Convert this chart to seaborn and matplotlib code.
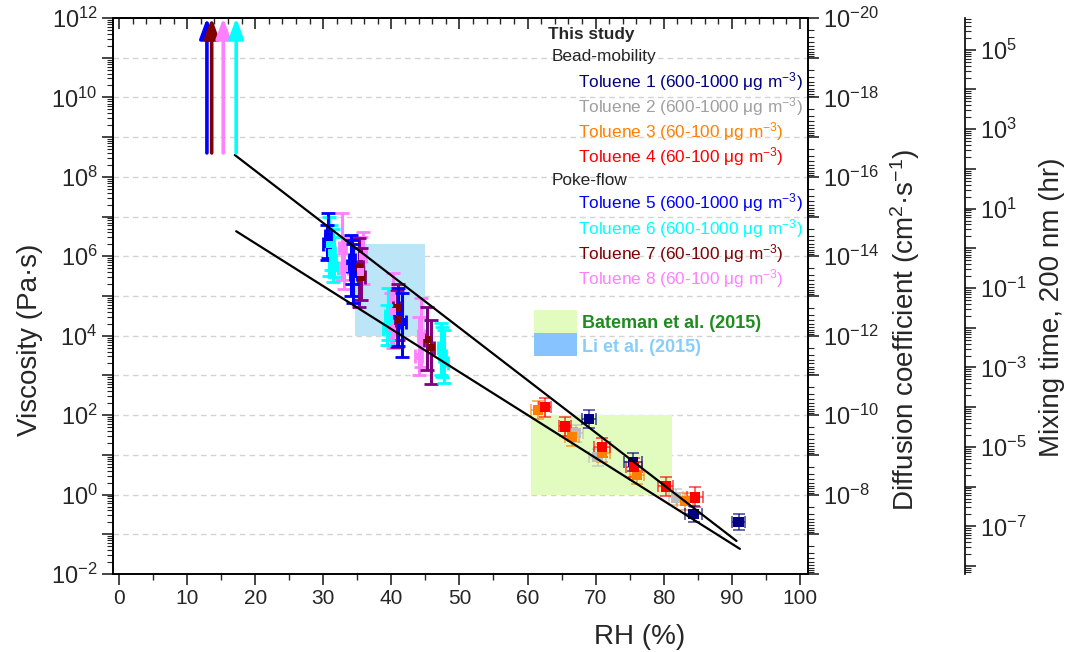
import numpy as np
import pandas as pd
import matplotlib
matplotlib.use("Agg")
import matplotlib.pyplot as plt
import seaborn as sns
from matplotlib.ticker import (LogLocator, FuncFormatter, NullFormatter,
                               MultipleLocator)
from matplotlib.patches import Rectangle

# ---------------- bead-mobility data (RH %, viscosity Pa s) ----------------
t1_rh = [69.0, 75.5, 84.4, 91.0]
t1_visc = [79.0, 6.6, 0.32, 0.20]
t1_rh_err = [1.0, 1.3, 1.2, 0.9]
t1_dec_err = [0.22, 0.22, 0.20, 0.20]

t2_rh = [67.1, 70.3, 81.8]
t2_visc = [35.0, 8.7, 0.85]
t2_rh_err = [1.0, 1.2, 1.0]
t2_dec_err = [0.22, 0.22, 0.2]

t3_rh = [61.5, 66.5, 70.9, 76.1, 83.1]
t3_visc = [135.0, 28.0, 11.0, 3.1, 0.68]
t3_rh_err = [1.0, 1.0, 1.2, 1.0, 1.2]
t3_dec_err = [0.22, 0.22, 0.22, 0.22, 0.22]

t4_rh = [62.6, 65.5, 70.9, 75.6, 80.3, 84.6]
t4_visc = [158.0, 52.0, 15.5, 4.9, 1.6, 0.85]
t4_rh_err = [0.9, 0.9, 1.2, 1.2, 1.1, 1.2]
t4_dec_err = [0.24, 0.24, 0.24, 0.24, 0.25, 0.25]

# ---------------- poke-flow data (RH %, best estimate, lower, upper) ----------------
t5_rh = [30.7, 30.5, 34.0, 34.4, 34.2, 40.9, 41.6]
t5_visc = [3.2e6, 2.0e6, 5.6e5, 3.5e5, 8.0e5, 4.0e4, 2.2e4]
t5_lo = [9.0e5, 8.0e5, 1.0e5, 6.6e4, 2.0e5, 5.6e3, 2.9e3]
t5_hi = [1.25e7, 6.0e6, 3.4e6, 2.0e6, 2.5e6, 1.6e5, 1.2e5]

t6_rh = [30.9, 31.4, 31.6, 31.2, 39.5, 39.3, 47.3, 47.8, 47.5]
t6_visc = [2.0e6, 8.0e5, 5.0e5, 1.2e6, 3.2e4, 1.5e4, 5.0e3, 2.0e3, 3.0e3]
t6_lo = [3.2e5, 2.2e5, 3.0e5, 4.5e5, 7.8e3, 6.0e3, 1.0e3, 6.5e2, 9.0e2]
t6_hi = [1.0e7, 5.0e6, 3.0e6, 6.0e6, 1.6e5, 6.0e4, 2.1e4, 1.4e4, 1.7e4]

t7_rh = [35.3, 35.6, 40.8, 41.0, 45.3, 45.8]
t7_visc = [5.4e5, 3.0e5, 5.0e4, 2.5e4, 8.0e3, 5.0e3]
t7_lo = [5.2e4, 8.0e4, 5.1e3, 8.0e3, 1.4e3, 6.0e2]
t7_hi = [2.9e6, 1.6e6, 1.4e5, 2.0e5, 5.2e4, 2.5e4]

t8_rh = [32.8, 33.1, 35.5, 35.8, 40.2, 40.0, 44.4, 44.0]
t8_visc = [1.6e6, 5.0e5, 4.0e5, 1.0e6, 4.0e4, 1.5e4, 1.0e4, 3.0e3]
t8_lo = [2.5e5, 1.5e5, 8.0e4, 2.0e5, 5.0e3, 6.0e3, 1.6e3, 1.0e3]
t8_hi = [1.2e7, 3.0e6, 3.0e6, 4.0e6, 3.8e5, 1.2e5, 8.9e4, 3.0e4]

# lower-limit arrows at the driest conditions (poke-flow, no flow observed)
arrow_rh = [12.9, 13.6, 15.3, 17.2]
arrow_series = ["Toluene 5", "Toluene 7", "Toluene 8", "Toluene 6"]
arrow_base = 4.0e8
arrow_top = 1.0e12

# fitted viscosity–RH relationships
fit_a_rh = [17.0, 90.7]
fit_a_visc = [3.55e8, 6.8e-2]
fit_b_rh = [17.2, 91.2]
fit_b_visc = [4.27e6, 4.3e-2]

# literature ranges
bateman_rh = [60.5, 81.2]
bateman_visc = [1.0, 100.0]
li_rh = [34.7, 44.9]
li_visc = [1.0e4, 2.0e6]

# axes scales
visc_lim = [1e-2, 1e12]
diff_const = 1e-8          # D (cm2 s-1) = diff_const / viscosity
mix_offset = 10 ** -6.2    # mixing time (hr) = mix_offset * viscosity

series_color = {
    "Toluene 1": "#000080", "Toluene 2": "#bdbdbd", "Toluene 3": "#ff8000",
    "Toluene 4": "#ff0000", "Toluene 5": "#0000ff", "Toluene 6": "#00ffff",
    "Toluene 7": "#800000", "Toluene 8": "#ff80ff",
}
text_color = dict(series_color)
text_color["Toluene 2"] = "#a0a0a0"
bar_color = dict(series_color)
bar_color["Toluene 7"] = "#800080"

sns.set_theme(style="ticks")
plt.rcParams["font.family"] = ["Liberation Sans", "DejaVu Sans"]
plt.rcParams["mathtext.fontset"] = "custom"
plt.rcParams["mathtext.rm"] = "Liberation Sans"
plt.rcParams["mathtext.it"] = "Liberation Sans:italic"
plt.rcParams["mathtext.bf"] = "Liberation Sans:bold"
plt.rcParams["mathtext.default"] = "regular"

fig = plt.figure(figsize=(10.73, 6.52), dpi=100)
ax = fig.add_axes([0.1053, 0.1196, 0.6477, 0.8528])
ax.set_yscale("log")
ax.set_xlim(-0.9, 101.2)
ax.set_ylim(*visc_lim)

# literature ranges
ax.fill_between(bateman_rh, bateman_visc[0], bateman_visc[1],
                color="#e2fbbf", lw=0, zorder=1)
ax.fill_between(li_rh, li_visc[0], li_visc[1],
                color="#bde5f8", lw=0, zorder=1)

bead = {
    "Toluene 1": (t1_rh, t1_visc, t1_rh_err, t1_dec_err),
    "Toluene 2": (t2_rh, t2_visc, t2_rh_err, t2_dec_err),
    "Toluene 3": (t3_rh, t3_visc, t3_rh_err, t3_dec_err),
    "Toluene 4": (t4_rh, t4_visc, t4_rh_err, t4_dec_err),
}
poke = {
    "Toluene 5": (t5_rh, t5_visc, t5_lo, t5_hi),
    "Toluene 6": (t6_rh, t6_visc, t6_lo, t6_hi),
    "Toluene 7": (t7_rh, t7_visc, t7_lo, t7_hi),
    "Toluene 8": (t8_rh, t8_visc, t8_lo, t8_hi),
}

# poke-flow ranges
for name in ["Toluene 8", "Toluene 7", "Toluene 6", "Toluene 5"]:
    rh, v, lo, hi = (np.asarray(a, float) for a in poke[name])
    ax.errorbar(rh, v, yerr=[v - lo, hi - v], xerr=0.5, fmt="none",
                ecolor=bar_color[name], elinewidth=2.2, capsize=5,
                capthick=2, zorder=2)

rows = []
for name, (rh, v, _, _) in poke.items():
    rows += [{"rh": r, "visc": y, "series": name} for r, y in zip(rh, v)]
poke_df = pd.DataFrame(rows)
sns.scatterplot(data=poke_df, x="rh", y="visc", hue="series",
                palette=series_color, marker="s", s=28, linewidth=0,
                legend=False, ax=ax, zorder=3)

# bead-mobility points
for name in ["Toluene 2", "Toluene 3", "Toluene 4", "Toluene 1"]:
    rh, v, xe, de = (np.asarray(a, float) for a in bead[name])
    ax.errorbar(rh, v, yerr=[v - v / 10 ** de, v * 10 ** de - v], xerr=xe,
                fmt="none", ecolor=series_color[name], alpha=0.75,
                elinewidth=1.1, capsize=4, capthick=1.1, zorder=3)

rows = []
for name, (rh, v, _, _) in bead.items():
    rows += [{"rh": r, "visc": y, "series": name} for r, y in zip(rh, v)]
bead_df = pd.DataFrame(rows)
sns.scatterplot(data=bead_df, x="rh", y="visc", hue="series",
                palette=series_color, marker="s", s=55, linewidth=0,
                legend=False, ax=ax, zorder=4)

# fitted lines
sns.lineplot(x=fit_a_rh, y=fit_a_visc, color="black", lw=1.6, ax=ax, zorder=5)
sns.lineplot(x=fit_b_rh, y=fit_b_visc, color="black", lw=1.6, ax=ax, zorder=5)

# lower-limit arrows
for rh, name in zip(arrow_rh, arrow_series):
    ax.annotate("", xy=(rh, arrow_top), xytext=(rh, arrow_base),
                arrowprops=dict(arrowstyle="-|>,head_width=0.22,head_length=0.6",
                                color=series_color[name], lw=2.6,
                                mutation_scale=20, shrinkA=0, shrinkB=0),
                zorder=6, annotation_clip=False)

# grid and ticks on the viscosity axis
ax.grid(False)
for e in range(-1, 12):
    ax.axhline(10.0 ** e, color="#d3d3d3", lw=1.0, ls=(0, (4, 3)), zorder=0)


def even_pow(v, _):
    e = int(round(np.log10(v)))
    return f"$10^{{{e}}}$" if e % 2 == 0 else ""


def odd_pow(v, _):
    e = int(round(np.log10(v)))
    return f"$10^{{{e}}}$" if e % 2 != 0 else ""


ax.yaxis.set_major_locator(LogLocator(base=10, numticks=40))
ax.yaxis.set_minor_locator(LogLocator(base=10, subs=np.arange(2, 10), numticks=400))
ax.yaxis.set_major_formatter(FuncFormatter(even_pow))
ax.yaxis.set_minor_formatter(NullFormatter())
ax.xaxis.set_major_locator(MultipleLocator(10))
ax.xaxis.set_minor_locator(MultipleLocator(5))
ax.tick_params(axis="y", which="major", direction="out", length=8, width=1.2,
               labelsize=17, pad=3)
ax.tick_params(axis="y", which="minor", direction="out", length=4, width=0.8)
ax.tick_params(axis="x", which="major", direction="out", length=8, width=1.2,
               labelsize=15, pad=3)
ax.tick_params(axis="x", which="minor", direction="out", length=4, width=1.0)
for s in ax.spines.values():
    s.set_linewidth(1.2)
    s.set_color("black")
ax.set_xlabel("")
ax.set_ylabel("")

top = ax.secondary_xaxis("top")
top.xaxis.set_major_locator(MultipleLocator(10))
top.xaxis.set_minor_locator(MultipleLocator(2))
top.tick_params(which="major", direction="in", length=8, width=1.2,
                labeltop=False)
top.tick_params(which="minor", direction="in", length=4, width=1.0)
top.set_xticklabels([])

# diffusion coefficient axis
ax2 = ax.twinx()
ax2.set_yscale("log")
ax2.set_ylim(diff_const / visc_lim[0], diff_const / visc_lim[1])
ax2.yaxis.set_major_locator(LogLocator(base=10, numticks=40))
ax2.yaxis.set_minor_locator(LogLocator(base=10, subs=np.arange(2, 10), numticks=400))
ax2.yaxis.set_major_formatter(
    FuncFormatter(lambda v, p: even_pow(v, p) if v < 5e-8 else ""))
ax2.yaxis.set_minor_formatter(NullFormatter())
ax2.tick_params(axis="y", which="major", direction="out", length=8, width=1.2,
                labelsize=17, pad=3)
ax2.tick_params(axis="y", which="minor", direction="out", length=4, width=0.8)
ax2.grid(False)
for s in ax2.spines.values():
    s.set_linewidth(1.2)
    s.set_color("black")

# mixing time axis
spine_x = 965 / 1073
ax3 = fig.add_axes([spine_x - 0.01, 0.1196, 0.01, 0.8528])
ax3.set_yscale("log")
ax3.set_ylim(mix_offset * visc_lim[0], mix_offset * visc_lim[1])
ax3.patch.set_visible(False)
ax3.grid(False)
for k in ["left", "top", "bottom"]:
    ax3.spines[k].set_visible(False)
ax3.spines["right"].set_linewidth(1.2)
ax3.spines["right"].set_color("black")
ax3.set_xticks([])
ax3.yaxis.tick_right()
ax3.yaxis.set_major_locator(LogLocator(base=10, numticks=40))
ax3.yaxis.set_minor_locator(LogLocator(base=10, subs=np.arange(2, 10), numticks=400))
ax3.yaxis.set_major_formatter(FuncFormatter(odd_pow))
ax3.yaxis.set_minor_formatter(NullFormatter())
ax3.tick_params(axis="y", which="major", direction="out", length=8, width=1.2,
                labelsize=17, pad=3)
ax3.tick_params(axis="y", which="minor", direction="out", length=4, width=0.8)

# axis titles
fig.text(30 / 1073, 1 - 340 / 652, "Viscosity (Pa·s)", rotation=90,
         ha="center", va="center", fontsize=20)
fig.text(640 / 1073, 1 - 637 / 652, "RH (%)", ha="center", va="center",
         fontsize=20)
fig.text(905 / 1073, 1 - 330 / 652, "Diffusion coefficient (cm$^2$·s$^{-1}$)",
         rotation=90, ha="center", va="center", fontsize=20)
fig.text(1052 / 1073, 1 - 307 / 652, "Mixing time, 200 nm (hr)", rotation=90,
         ha="center", va="center", fontsize=20)


# in-plot key, positioned in pixel units of the plotting area
def px(xp, yp):
    return (xp - 113) / 695, (574 - yp) / 556


key_size = 12.4
ax.text(*px(548, 35), "This study", transform=ax.transAxes, fontsize=key_size,
        fontweight="bold", va="center", ha="left")
ax.text(*px(552, 57), "Bead-mobility", transform=ax.transAxes,
        fontsize=key_size, va="center", ha="left")
ax.text(*px(552, 180), "Poke-flow", transform=ax.transAxes, fontsize=key_size,
        va="center", ha="left")
key_y = {"Toluene 1": 82, "Toluene 2": 107, "Toluene 3": 132, "Toluene 4": 157,
         "Toluene 5": 203, "Toluene 6": 229, "Toluene 7": 254, "Toluene 8": 279}
key_conc = {"Toluene 1": "600-1000", "Toluene 2": "600-1000",
            "Toluene 3": "60-100", "Toluene 4": "60-100",
            "Toluene 5": "600-1000", "Toluene 6": "600-1000",
            "Toluene 7": "60-100", "Toluene 8": "60-100"}
for name, yp in key_y.items():
    ax.text(*px(578, yp), f"{name} ({key_conc[name]} μg m$^{{-3}}$)",
            transform=ax.transAxes, fontsize=key_size, color=text_color[name],
            va="center", ha="left")

x0, y0 = px(534, 333)
w = 43 / 695
h = 23 / 556
ax.add_patch(Rectangle((x0, y0), w, h, transform=ax.transAxes,
                       color="#e2fbbf", lw=0, zorder=2))
ax.add_patch(Rectangle((x0, y0 - h), w, h, transform=ax.transAxes,
                       color="#87c3ff", lw=0, zorder=2))
ax.text(*px(582, 323), "Bateman et al. (2015)", transform=ax.transAxes,
        fontsize=13, fontweight="bold", color="#1e8c1e", va="center")
ax.text(*px(582, 347), "Li et al. (2015)", transform=ax.transAxes,
        fontsize=13, fontweight="bold", color="#87cefa", va="center")

fig.savefig("out.png", dpi=100)
